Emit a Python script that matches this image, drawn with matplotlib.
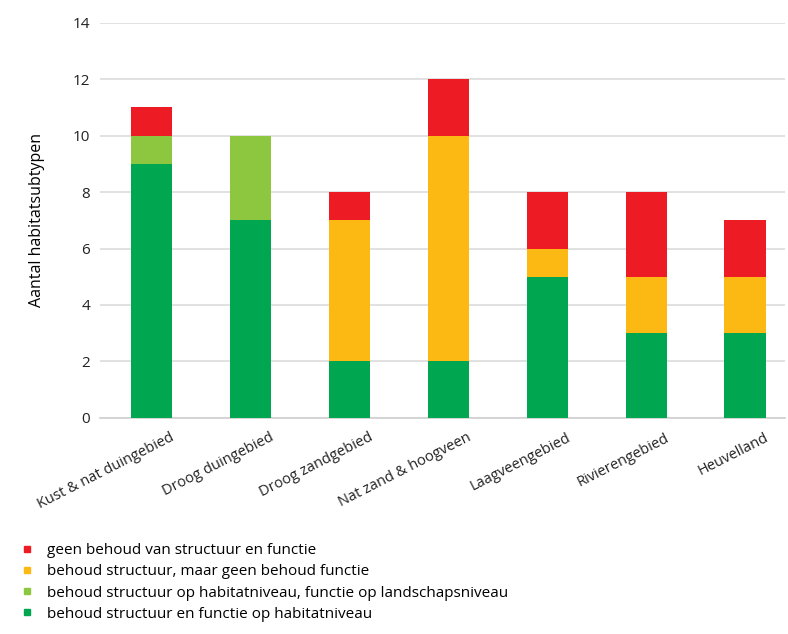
import numpy as np
import matplotlib.pyplot as plt
from matplotlib.lines import Line2D

plt.rcParams['font.family'] = ['Open Sans', 'DejaVu Sans']

regions = ['Kust & nat duingebied', 'Droog duingebied', 'Droog zandgebied',
           'Nat zand & hoogveen', 'Laagveengebied', 'Rivierengebied', 'Heuvelland']
struct_func_habitat = [9, 7, 2, 2, 5, 3, 3]
struct_habitat_func_landscape = [1, 3, 0, 0, 0, 0, 0]
struct_no_func = [0, 0, 5, 8, 1, 2, 2]
no_struct_func = [1, 0, 1, 2, 2, 3, 2]

series = [
    (struct_func_habitat, '#00a650', 'behoud structuur en functie op habitatniveau'),
    (struct_habitat_func_landscape, '#8dc63f', 'behoud structuur op habitatniveau, functie op landschapsniveau'),
    (struct_no_func, '#fcb813', 'behoud structuur, maar geen behoud functie'),
    (no_struct_func, '#ed1c24', 'geen behoud van structuur en functie'),
]

fig = plt.figure(figsize=(7.88, 6.34), dpi=100)
ax = fig.add_axes([0.127, 0.341, 0.869, 0.623])

x = np.arange(len(regions))
bottom = np.zeros(len(regions))
for vals, color, label in series:
    ax.bar(x, vals, width=0.42, bottom=bottom, color=color, zorder=3)
    bottom += np.array(vals)

ax.set_ylim(0, 14)
ax.set_xlim(-0.52, 6.4)
ax.set_yticks(range(0, 15, 2))
ax.yaxis.grid(True, color='#dcdcdc', linewidth=1.2, zorder=0)
for s in ['top', 'right', 'left']:
    ax.spines[s].set_visible(False)
ax.spines['bottom'].set_color('#cfcfcf')
ax.spines['bottom'].set_linewidth(1.2)
ax.tick_params(axis='both', length=0, labelsize=11, colors='#222222')
ax.tick_params(axis='y', pad=7)
# labels sit a bit right of the bar centres in the original
ax.set_xticks(x + 0.19)
ax.set_xticklabels(regions, rotation=27, ha='right', rotation_mode='anchor', fontsize=10.5)
ax.tick_params(axis='x', pad=9)
ax.set_ylabel('Aantal habitatsubtypen', fontsize=11.5)
ax.yaxis.set_label_coords(-0.08, 0.5)

handles = [Line2D([], [], marker='s', linestyle='none', color=c, markersize=5)
           for _, c, _ in series[::-1]]
labels = [l for _, _, l in series[::-1]]
fig.legend(handles, labels, loc='upper left', bbox_to_anchor=(0.015, 0.155),
           frameon=False, fontsize=11, handletextpad=0.8, labelspacing=0.4,
           borderpad=0, handlelength=1)

fig.savefig('out.png', dpi=100)
